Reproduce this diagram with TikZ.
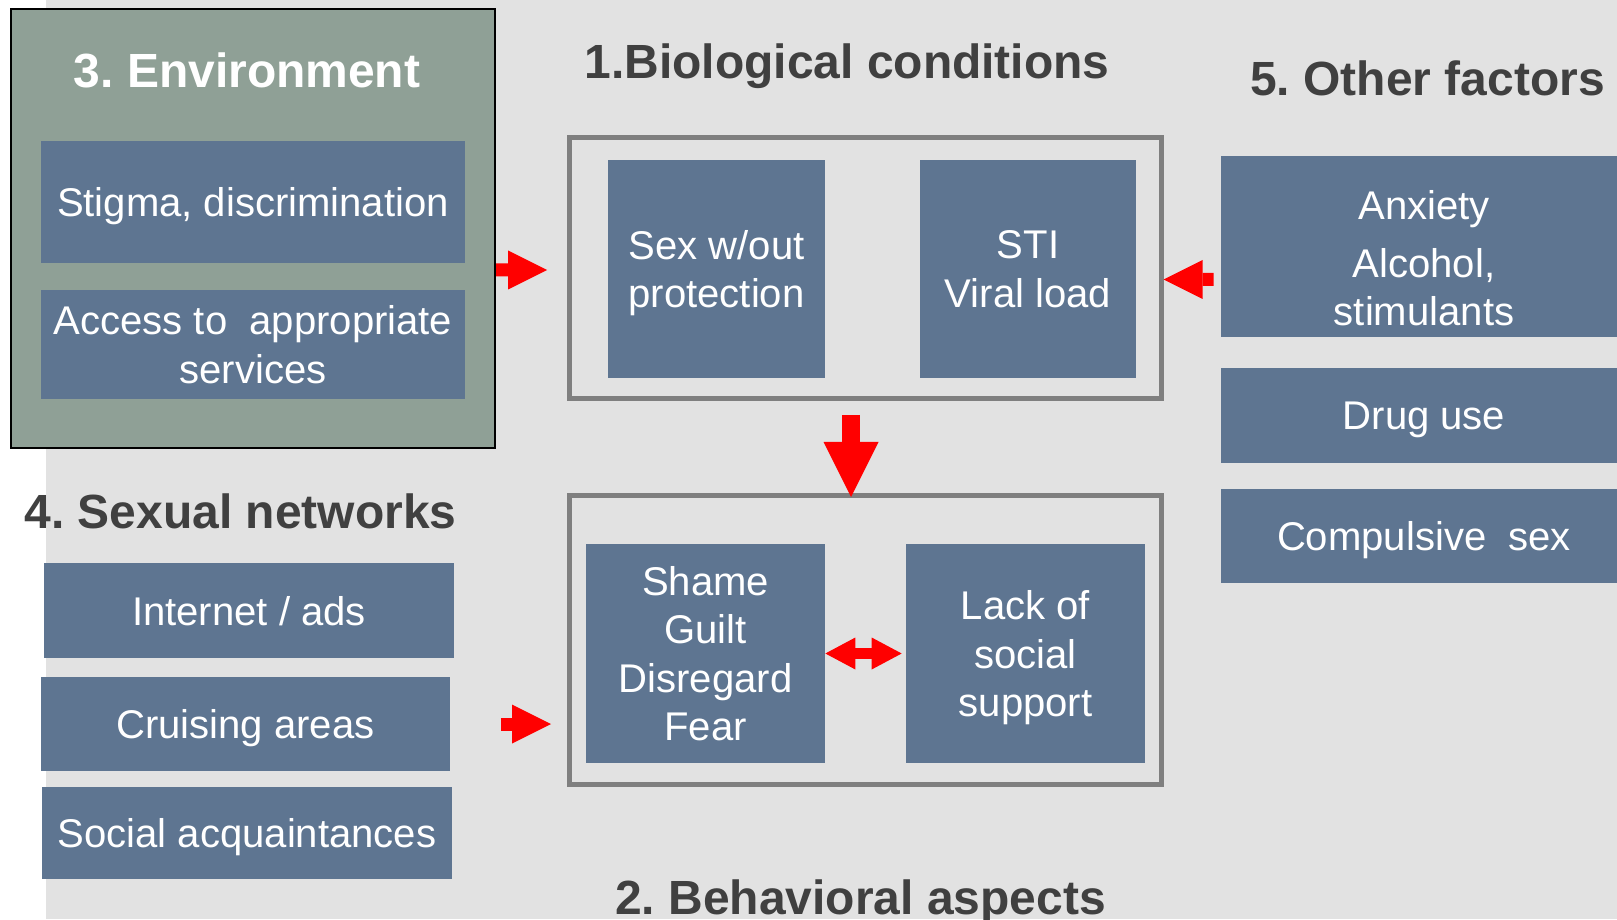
\documentclass[tikz,border=0pt]{standalone}
\usepackage{fontspec}
\setmainfont{Liberation Sans}
\usetikzlibrary{arrows.meta}
\frenchspacing

\definecolor{slidegray}{RGB}{226,226,226}
\definecolor{factorblue}{RGB}{94,117,145}
\definecolor{envgreen}{RGB}{143,160,150}
\definecolor{framegray}{RGB}{127,127,127}
\definecolor{headgray}{RGB}{64,64,64}

\begin{document}
\begin{tikzpicture}[
  factor/.style={fill=factorblue, text=white, align=center, inner sep=0pt, text depth=0pt, font=\fontsize{22.8}{27.4}\selectfont},
  frame/.style={draw=framegray, line width=0.1cm, inner sep=0pt},
  heading/.style={anchor=base, text=headgray, inner sep=0pt, font=\fontsize{27.3}{32.8}\selectfont\bfseries},
  redarrow/.style={draw=red, line width=0.26cm, -{Triangle[length=0.78cm, width=0.78cm, line width=0pt]}}
]
\useasboundingbox (0,0) rectangle (32.34,18.38);
\fill[slidegray] (0,0) rectangle (32.34,18.38);
\fill[white] (0,0) rectangle (0.92,18.38);
% 3. environment
\node[draw, fill=envgreen, line width=0.04cm, minimum width=9.68cm, minimum height=8.78cm] (env) at (5.06,13.81) {};
\node[heading, text=white] (envtitle) at (4.94,16.62) {3. Environment};
\node[factor, minimum width=8.48cm, minimum height=2.44cm] (stigma) at (5.06,14.34) {Stigma, discrimination};
\node[factor, minimum width=8.48cm, minimum height=2.18cm] (access) at (5.06,11.49) {Access to\ \ appropriate\\services};
% 1. biological conditions
\node[heading] (biotitle) at (16.94,16.8) {1.Biological conditions};
\node[frame, minimum width=11.84cm, minimum height=5.22cm] (bio) at (17.3,13.02) {};
\node[factor, minimum width=4.34cm, minimum height=4.36cm] (sex) at (14.33,13.0) {Sex w/out\\protection};
\node[factor, minimum width=4.32cm, minimum height=4.36cm] (sti) at (20.56,13.0) {STI\\Viral load};
% 2. behavioral aspects
\node[frame, minimum width=11.84cm, minimum height=5.78cm] (behav) at (17.3,5.58) {};
\node[factor, minimum width=4.78cm, minimum height=4.38cm] (shame) at (14.11,5.31) {Shame\\Guilt\\Disregard\\Fear};
\node[factor, minimum width=4.78cm, minimum height=4.38cm] (lack) at (20.51,5.31) {Lack of\\social\\support};
\node[heading] (behavtitle) at (17.21,0.1) {2. Behavioral aspects};
% 4. sexual networks
\node[heading] (nettitle) at (4.81,7.82) {4. Sexual networks};
\node[factor, minimum width=8.2cm, minimum height=1.9cm] (internet) at (4.98,6.17) {Internet / ads};
\node[factor, minimum width=8.18cm, minimum height=1.88cm] (cruise) at (4.91,3.9) {Cruising areas};
\node[factor, minimum width=8.2cm, minimum height=1.84cm] (social) at (4.94,1.72) {Social acquaintances};
% 5. other factors
\node[heading] (othertitle) at (28.55,16.46) {5. Other factors};
\node[factor, minimum width=8.12cm, minimum height=3.62cm] (anx) at (28.48,13.45) {\rule{0pt}{1.05cm}Anxiety\\[0.2cm]Alcohol,\\stimulants};
\node[factor, minimum width=8.12cm, minimum height=1.9cm] (drug) at (28.48,10.07) {Drug use};
\node[factor, minimum width=8.12cm, minimum height=1.88cm] (compulsive) at (28.48,7.66) {Compulsive\ \ sex};
% red block arrows
\draw[redarrow, shorten >=0.39cm] ([yshift=-0.83cm]env.east) -- ([yshift=-0.04cm]bio.west);
\draw[redarrow, shorten <=0.14cm] ([yshift=-0.66cm]anx.west) -- ([yshift=-0.23cm]bio.east);
\draw[redarrow, line width=0.36cm, -{Triangle[length=1.1cm, width=1.1cm, line width=0pt]}, shorten <=0.28cm, shorten >=-0.08cm] ([xshift=-0.28cm]bio.south) -- ([xshift=-0.28cm]behav.north);
\draw[redarrow, shorten <=1.01cm, shorten >=0.31cm] (cruise.east) -- (cruise.east -| behav.west);
\draw[redarrow, line width=0.22cm, {Triangle[length=0.6cm, width=0.64cm, line width=0pt]}-{Triangle[length=0.6cm, width=0.64cm, line width=0pt]}, shorten >=0.08cm] (shame) -- (lack);
\end{tikzpicture}
\end{document}
